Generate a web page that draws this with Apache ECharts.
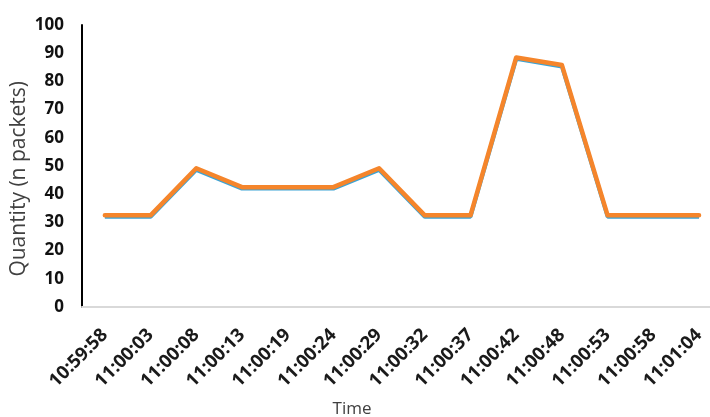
<!DOCTYPE html>
<html>
<head>
<meta charset="utf-8">
<script src="https://cdn.jsdelivr.net/npm/echarts@6/dist/echarts.min.js"></script>
<style>
html,body{margin:0;padding:0;background:#fff;}
#chart{width:710px;height:417px;}
</style>
</head>
<body>
<div id="chart"></div>
<script>
var categories = ['10:59:58','11:00:03','11:00:08','11:00:13','11:00:19','11:00:24','11:00:29','11:00:32','11:00:37','11:00:42','11:00:48','11:00:53','11:00:58','11:01:04'];
var blueValues = [32, 32, 48.6, 42, 42, 42, 48.6, 32, 32, 88, 85.3, 32, 32, 32];
var orangeValues = [32.5, 32.5, 49.2, 42.5, 42.5, 42.5, 49.2, 32.5, 32.5, 88.5, 85.8, 32.5, 32.5, 32.5];
var yTicks = [0, 10, 20, 30, 40, 50, 60, 70, 80, 90, 100];
var xIndex = categories.map(function (c, i) { return i; });

function pairs(vals) { return vals.map(function (v, i) { return [xIndex[i], v]; }); }

var chart = echarts.init(document.getElementById('chart'), null, {renderer: 'canvas'});
chart.setOption({
  animation: false,
  backgroundColor: '#ffffff',
  grid: {left: 82, right: 0, top: 25, bottom: 110, containLabel: false, outerBoundsMode: 'none'},
  graphic: [
    {type: 'text', left: 9, top: 81, rotation: Math.PI / 2,
     style: {text: 'Quantity (n packets)', fontFamily: 'Open Sans', fontSize: 21, fill: '#404040'}}
  ],
  xAxis: {
    type: 'value',
    min: -0.5,
    max: 13.24,
    name: 'Time',
    nameLocation: 'middle',
    nameGap: 94,
    nameTextStyle: {fontFamily: 'Open Sans', fontSize: 17, color: '#404040', padding: [0, 88, 0, 0]},
    axisLine: {show: true, onZero: false, lineStyle: {color: '#d9d9d9', width: 2}},
    axisTick: {show: false},
    splitLine: {show: false},
    axisLabel: {
      customValues: xIndex,
      rotate: 45, fontFamily: 'Open Sans', fontWeight: 'bold', fontSize: 18.5, color: '#1a1a1a', margin: 25,
      formatter: function (v) { return categories[Math.round(v)]; }
    }
  },
  yAxis: {
    type: 'value',
    min: yTicks[0],
    max: yTicks[yTicks.length - 1],
    interval: 10,
    axisLine: {show: true, onZero: false, lineStyle: {color: '#000', width: 2}},
    axisTick: {show: false},
    splitLine: {show: false},
    axisLabel: {fontFamily: 'Open Sans', fontWeight: 'bold', fontSize: 17, color: '#111', margin: 18}
  },
  series: [
    {type: 'line', data: pairs(blueValues), symbol: 'none', lineStyle: {color: '#3aa3d6', width: 4}, z: 2},
    {type: 'line', data: pairs(orangeValues), symbol: 'none', lineStyle: {color: '#f5852b', width: 4.5, cap: 'round', join: 'round'}, z: 3}
  ]
});
</script>
</body>
</html>
